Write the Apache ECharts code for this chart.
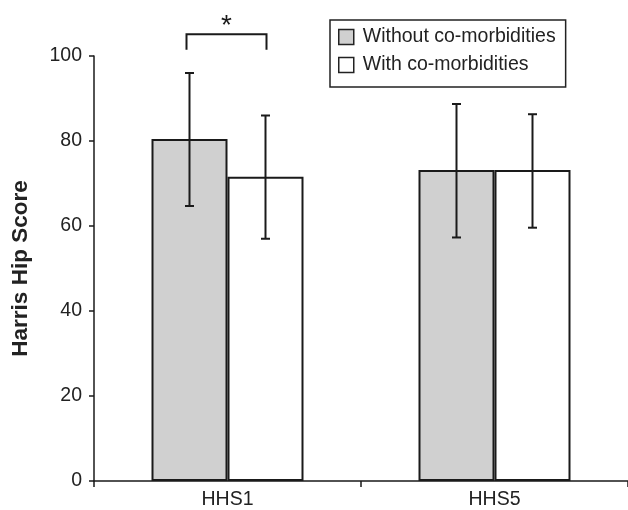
<!DOCTYPE html>
<html>
<head>
<meta charset="utf-8">
<script src="https://cdn.jsdelivr.net/npm/echarts@6/dist/echarts.min.js"></script>
<style>
html,body{margin:0;padding:0;background:#fff;}
#chart{width:628px;height:510px;}
</style>
</head>
<body>
<div id="chart"></div>
<script>
// ---- data ----
const categories = ['HHS1', 'HHS5'];
const seriesNames = ['Without co-morbidities', 'With co-morbidities'];
const withoutMeans = [80.5, 73.2];
const withMeans = [71.6, 73.2];
const withoutLow = [64.7, 57.3];
const withoutHigh = [96.0, 88.7];
const withLow = [57.0, 59.6];
const withHigh = [86.0, 86.3];
const yMin = 0, yMax = 100, yInterval = 20;
const yAxisTitle = 'Harris Hip Score';
// significance bracket (HHS1, between the two groups)
const sigCategory = [0];
const sigTop = [105.1];
const sigLeg = [101.5];
const sigStarY = [107.0];
const sigLabel = ['*'];

// ---- style ----
const BAR_W = 76;
const FONT = 'Liberation Sans, Arial, Helvetica, sans-serif';
const INK = '#1a1a1a';
const GRAY = '#d0d0d0';

const chart = echarts.init(document.getElementById('chart'), null, {renderer: 'canvas'});

function errRender(side) {
  return function (params, api) {
    const lo = api.coord([api.value(0), api.value(1)]);
    const hi = api.coord([api.value(0), api.value(2)]);
    const x = lo[0] + side * BAR_W / 2;
    const cap = 4.5;
    const st = {stroke: INK, lineWidth: 2};
    return {
      type: 'group',
      children: [
        {type: 'line', shape: {x1: x, y1: lo[1], x2: x, y2: hi[1]}, style: st},
        {type: 'line', shape: {x1: x - cap, y1: lo[1], x2: x + cap, y2: lo[1]}, style: st},
        {type: 'line', shape: {x1: x - cap, y1: hi[1], x2: x + cap, y2: hi[1]}, style: st}
      ]
    };
  };
}

const errWithout = categories.map((c, i) => [i, withoutLow[i], withoutHigh[i]]);
const errWith = categories.map((c, i) => [i, withLow[i], withHigh[i]]);
const sigData = sigCategory.map((c, i) => [c, sigTop[i], sigLeg[i], sigStarY[i]]);

chart.setOption({
  animation: false,
  backgroundColor: '#fff',
  textStyle: {fontFamily: FONT},
  grid: {left: 94, top: 56, width: 538, height: 425},
  legend: {
    orient: 'vertical',
    left: 330,
    top: 20,
    padding: [7, 10, 12, 8],
    itemGap: 8,
    itemWidth: 15,
    itemHeight: 15,
    borderColor: '#222',
    borderWidth: 1.5,
    icon: 'rect',
    textStyle: {fontSize: 19.5, color: '#222', fontFamily: FONT, padding: [0, 0, 0, 4]},
    data: [
      {name: seriesNames[0], itemStyle: {color: GRAY, borderColor: '#222', borderWidth: 1.5}},
      {name: seriesNames[1], itemStyle: {color: '#fff', borderColor: '#222', borderWidth: 1.5}}
    ]
  },
  xAxis: {
    type: 'category',
    data: categories,
    boundaryGap: true,
    axisLine: {lineStyle: {color: INK, width: 1.5}},
    axisTick: {show: true, length: 6, lineStyle: {color: INK, width: 1.5}},
    axisLabel: {fontSize: 19.5, color: '#222', margin: 9, fontFamily: FONT},
    splitLine: {show: false}
  },
  yAxis: {
    type: 'value',
    min: yMin, max: yMax, interval: yInterval,
    name: yAxisTitle,
    nameLocation: 'middle',
    nameGap: 62,
    nameTextStyle: {fontSize: 22.5, fontWeight: 'bold', color: '#222', fontFamily: FONT},
    axisLine: {show: true, lineStyle: {color: INK, width: 1.5}},
    axisTick: {show: true, length: 5, lineStyle: {color: INK, width: 1.5}},
    axisLabel: {fontSize: 19.5, color: '#222', margin: 12, fontFamily: FONT},
    splitLine: {show: false}
  },
  series: [
    {
      name: seriesNames[0], type: 'bar', data: withoutMeans,
      barWidth: BAR_W, barGap: '0%',
      itemStyle: {color: GRAY, borderColor: INK, borderWidth: 2},
      z: 2
    },
    {
      name: seriesNames[1], type: 'bar', data: withMeans,
      barWidth: BAR_W, barGap: '0%',
      itemStyle: {color: '#fff', borderColor: INK, borderWidth: 2},
      z: 2
    },
    {type: 'custom', data: errWithout, renderItem: errRender(-1), z: 5, silent: true},
    {type: 'custom', data: errWith, renderItem: errRender(1), z: 5, silent: true},
    {
      type: 'custom', data: sigData, z: 5, silent: true, clip: false,
      renderItem: function (params, api) {
        const top = api.coord([api.value(0), api.value(1)]);
        const leg = api.coord([api.value(0), api.value(2)]);
        const star = api.coord([api.value(0), api.value(3)]);
        const x1 = top[0] - BAR_W / 2 - 3, x2 = top[0] + BAR_W / 2 + 1;
        return {
          type: 'group',
          children: [
            {type: 'polyline', shape: {points: [[x1, leg[1]], [x1, top[1]], [x2, top[1]], [x2, leg[1]]]},
             style: {stroke: INK, lineWidth: 2, fill: null}},
            {type: 'text', style: {text: sigLabel[params.dataIndex], x: (x1 + x2) / 2, y: star[1],
             align: 'center', verticalAlign: 'middle', fontSize: 28, fill: INK, fontFamily: FONT}}
          ]
        };
      }
    }
  ]
});
</script>
</body>
</html>
